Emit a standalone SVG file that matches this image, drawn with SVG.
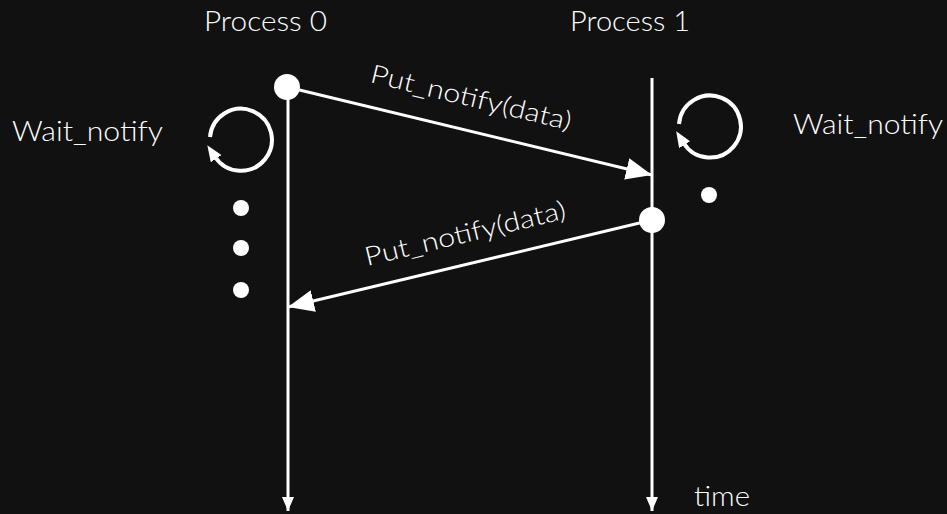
<svg xmlns="http://www.w3.org/2000/svg" width="947" height="514" viewBox="0 0 947 514">
  <style>
    .lbl { font-family: Lato, "Open Sans", sans-serif; font-weight: 300; fill: #ffffff; }
    .line { stroke: #ffffff; stroke-width: 3; fill: none; }
    .loop { stroke: #ffffff; stroke-width: 4; fill: none; }
    .dot { fill: #ffffff; }
  </style>
  <defs>
    <marker id="bigHead" markerUnits="userSpaceOnUse" markerWidth="26" markerHeight="22" refX="26" refY="11" orient="auto">
      <path d="M0,0 L26,11 L0,22 z" fill="#ffffff"/>
    </marker>
    <marker id="smallHead" markerUnits="userSpaceOnUse" markerWidth="14" markerHeight="12" refX="14" refY="6" orient="auto">
      <path d="M0,0 L14,6 L0,12 z" fill="#ffffff"/>
    </marker>
    <marker id="loopHead" markerUnits="userSpaceOnUse" markerWidth="16" markerHeight="13" refX="2" refY="6.5" orient="auto">
      <path d="M0,0 L16,6.5 L0,13 z" fill="#ffffff"/>
    </marker>
  </defs>
  <rect width="947" height="514" fill="#111111"/>

  <g id="process0">
    <text class="lbl" x="204" y="31" font-size="28" textLength="123" lengthAdjust="spacingAndGlyphs">Process 0</text>
  </g>
  <g id="process1">
    <text class="lbl" x="570" y="31" font-size="28" textLength="120" lengthAdjust="spacingAndGlyphs">Process 1</text>
  </g>

  <g id="connectors">
    <!-- timelines -->
    <line class="line" x1="288" y1="88" x2="288" y2="511" marker-end="url(#smallHead)"/>
    <line class="line" x1="652" y1="78" x2="652" y2="511" marker-end="url(#smallHead)"/>
    <!-- messages -->
    <line class="line" x1="287" y1="87" x2="652" y2="175" marker-end="url(#bigHead)"/>
    <line class="line" x1="652" y1="220" x2="288" y2="307" marker-end="url(#bigHead)"/>
  </g>

  <g id="msg1-label">
    <text class="lbl" font-size="26" textLength="206" lengthAdjust="spacingAndGlyphs" transform="translate(369,82) rotate(13.6)">Put_notify(data)</text>
  </g>
  <g id="msg2-label">
    <text class="lbl" font-size="26" textLength="206" lengthAdjust="spacingAndGlyphs" transform="translate(367,266) rotate(-13.4)">Put_notify(data)</text>
  </g>

  <g id="p0-events">
    <circle class="dot" cx="287" cy="87" r="13"/>
    <circle class="dot" cx="241" cy="208" r="8"/>
    <circle class="dot" cx="241" cy="248" r="8"/>
    <circle class="dot" cx="241" cy="290" r="8"/>
  </g>
  <g id="p1-events">
    <circle class="dot" cx="652" cy="220" r="13"/>
    <circle class="dot" cx="709" cy="195" r="8"/>
  </g>

  <!-- self-loops: clockwise arc ending in an upward arrowhead on the left side -->
  <g id="wait-left">
    <path class="loop" d="M210,137 A31,31 0 1 1 215.1,157" marker-end="url(#loopHead)"/>
    <text class="lbl" x="12" y="141" font-size="27" textLength="151" lengthAdjust="spacingAndGlyphs">Wait_notify</text>
  </g>
  <g id="wait-right">
    <path class="loop" d="M679,124 A31,31 0 1 1 683.6,143" marker-end="url(#loopHead)"/>
    <text class="lbl" x="793" y="134" font-size="27" textLength="150" lengthAdjust="spacingAndGlyphs">Wait_notify</text>
  </g>

  <g id="time-label">
    <text class="lbl" x="694" y="506" font-size="27" textLength="56" lengthAdjust="spacingAndGlyphs">time</text>
  </g>
</svg>
